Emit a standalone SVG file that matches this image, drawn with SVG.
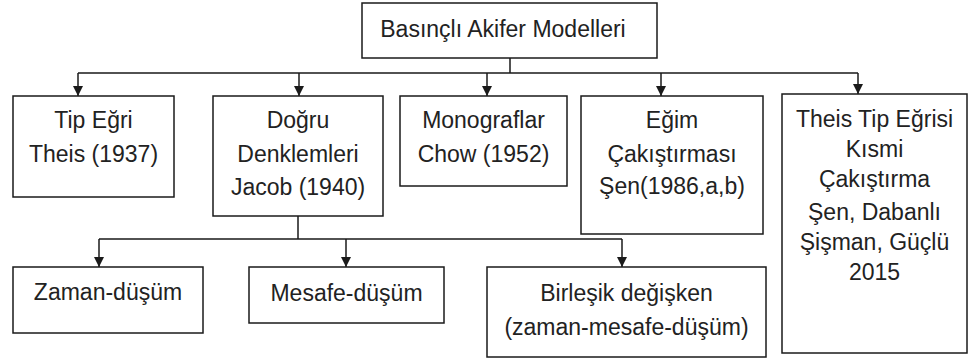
<svg xmlns="http://www.w3.org/2000/svg" width="971" height="362" viewBox="0 0 971 362">
<defs>
<marker id="arr" viewBox="0 0 10 10" refX="10" refY="5" markerWidth="11" markerHeight="10" markerUnits="userSpaceOnUse" orient="auto">
<path d="M0,0 L10,5 L0,10 z" fill="#1a1a1a"/>
</marker>
<style>
.box{fill:#fff;stroke:#1a1a1a;stroke-width:1.5}
.t{font-family:"Liberation Sans",Arial,sans-serif;font-size:23px;fill:#222;text-anchor:middle}
.c{fill:none;stroke:#1a1a1a;stroke-width:1.5}
.a{fill:none;stroke:#1a1a1a;stroke-width:1.5;marker-end:url(#arr)}
</style>
</defs>
<rect width="971" height="362" fill="#fff"/>
<g id="connectors">
<path class="c" d="M510,58 V73 M78,73 H858"/>
<path class="a" d="M78,73 V96"/>
<path class="a" d="M299,73 V96"/>
<path class="a" d="M487,73 V96"/>
<path class="a" d="M661,73 V96"/>
<path class="a" d="M858,73 V94"/>
<path class="c" d="M298,216 V239 M99,239 H622"/>
<path class="a" d="M99,239 V267"/>
<path class="a" d="M346,239 V267"/>
<path class="a" d="M622,239 V267"/>
</g>
<g id="root">
<rect class="box" x="362" y="3" width="295" height="55"/>
<text class="t" x="503" y="37">Basınçlı Akifer Modelleri</text>
</g>
<g id="tip-egri">
<rect class="box" x="13" y="96" width="161" height="101"/>
<text class="t" x="93.5" y="128">Tip Eğri</text>
<text class="t" x="93.5" y="162">Theis (1937)</text>
</g>
<g id="dogru">
<rect class="box" x="213" y="96" width="170" height="120"/>
<text class="t" x="298" y="128">Doğru</text>
<text class="t" x="298" y="162">Denklemleri</text>
<text class="t" x="298" y="195">Jacob (1940)</text>
</g>
<g id="monograflar">
<rect class="box" x="400" y="96" width="167" height="90"/>
<text class="t" x="483.5" y="128">Monograflar</text>
<text class="t" x="483.5" y="162">Chow (1952)</text>
</g>
<g id="egim">
<rect class="box" x="581" y="96" width="182" height="138"/>
<text class="t" x="672" y="128">Eğim</text>
<text class="t" x="672" y="162">Çakıştırması</text>
<text class="t" x="672" y="194">Şen(1986,a,b)</text>
</g>
<g id="theis-kismi">
<rect class="box" x="782" y="94" width="185" height="259"/>
<text class="t" x="874.5" y="127">Theis Tip Eğrisi</text>
<text class="t" x="874.5" y="157">Kısmi</text>
<text class="t" x="874.5" y="187">Çakıştırma</text>
<text class="t" x="874.5" y="220">Şen, Dabanlı</text>
<text class="t" x="874.5" y="250">Şişman, Güçlü</text>
<text class="t" x="874.5" y="280">2015</text>
</g>
<g id="zaman">
<rect class="box" x="13" y="267" width="190" height="66"/>
<text class="t" x="108" y="300">Zaman-düşüm</text>
</g>
<g id="mesafe">
<rect class="box" x="249" y="267" width="195" height="56"/>
<text class="t" x="346.5" y="301">Mesafe-düşüm</text>
</g>
<g id="birlesik">
<rect class="box" x="487" y="267" width="279" height="90"/>
<text class="t" x="626.5" y="301">Birleşik değişken</text>
<text class="t" x="626.5" y="335">(zaman-mesafe-düşüm)</text>
</g>
</svg>
